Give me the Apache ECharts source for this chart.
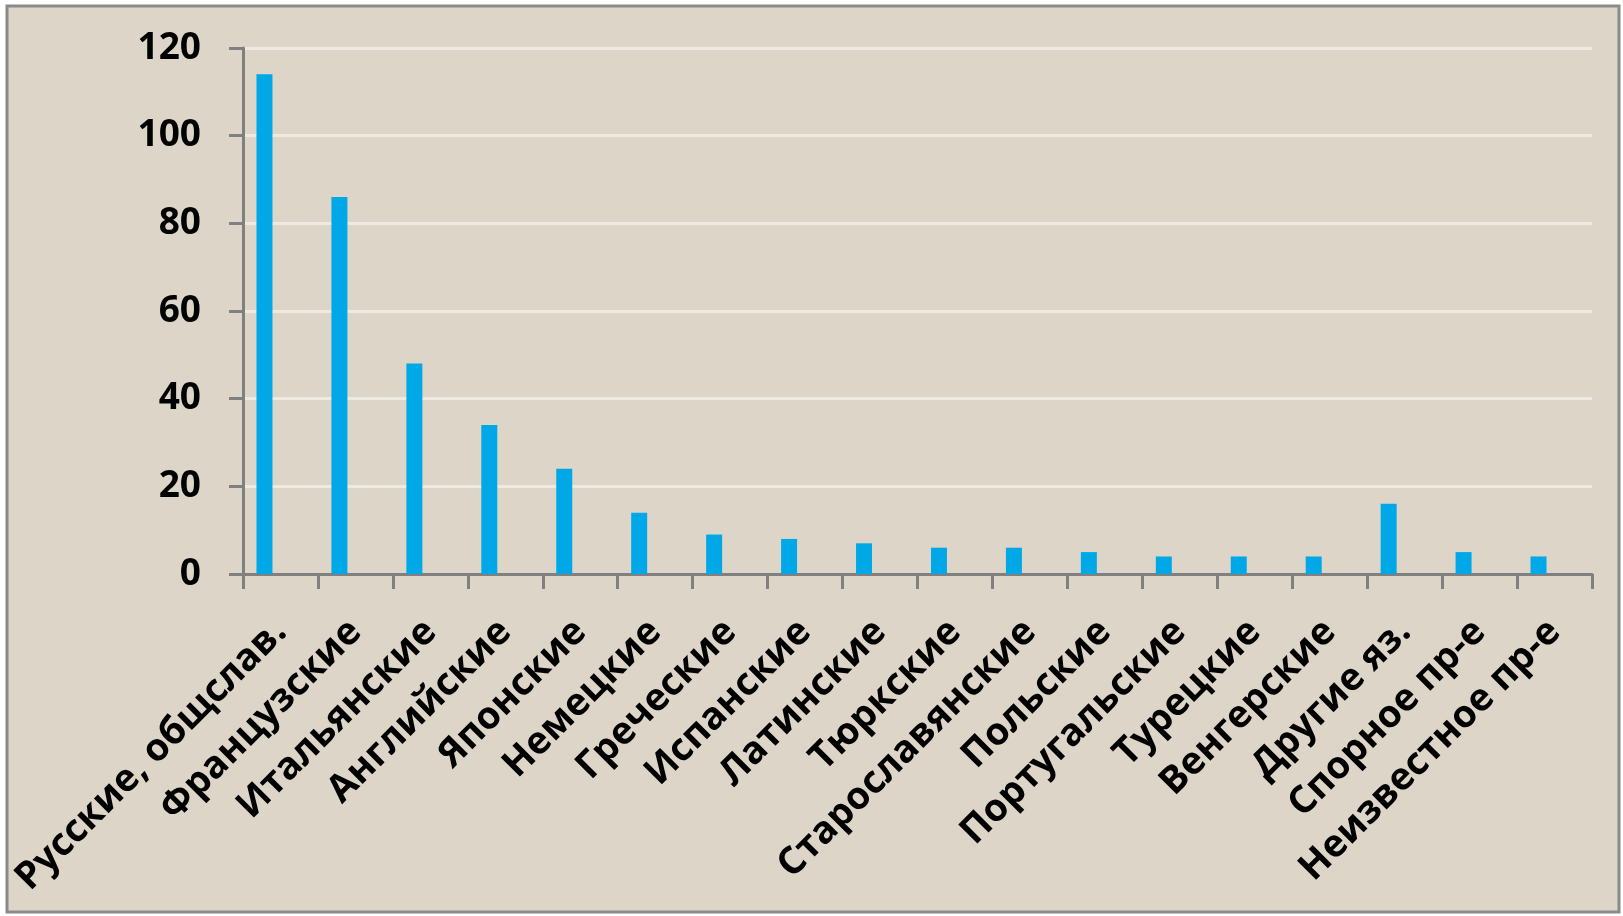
<html lang="ru">
<head>
<meta charset="UTF-8">
<title>Заимствования</title>
<script src="https://cdn.jsdelivr.net/npm/echarts@6/dist/echarts.min.js"></script>
<style>
body{margin:0;background:#fff;}
</style>
</head>
<body>
<div id="main" style="width:1623px;height:916px;"></div>
<script type="text/javascript">
// категории и значения
var categories = ['Русские, общслав.', 'Французские', 'Итальянские', 'Английские', 'Японские',
	'Немецкие', 'Греческие', 'Испанские', 'Латинские', 'Тюркские', 'Старославянские',
	'Польские', 'Португальские', 'Турецкие', 'Венгерские', 'Другие яз.', 'Спорное пр-е', 'Неизвестное пр-е'];
var counts = [114, 86, 48, 34, 24, 14, 9, 8, 7, 6, 6, 5, 4, 4, 4, 16, 5, 4];
// в исходной диаграмме ещё два пустых ряда, из-за них столбики сдвинуты влево
var emptyB = [];
var emptyC = [];
var yTicks = [0, 20, 40, 60, 80, 100, 120];

var chart = echarts.init(document.getElementById('main'));
var fontFam = '"Open Sans", "Noto Sans", sans-serif';
var option = {
	backgroundColor: '#ffffff',
	animation: false,
	graphic: [{
		type: 'rect',
		shape: {x: 7, y: 6, width: 1612, height: 906},
		style: {fill: '#ddd6c8', stroke: '#8a8a8a', lineWidth: 3},
		z: -10
	}],
	grid: {left: 243, right: 31, top: 48, bottom: 342},
	xAxis: {
		type: 'category',
		data: categories,
		axisLine: {lineStyle: {color: '#808080', width: 3}},
		axisTick: {show: true, length: 15, lineStyle: {color: '#808080', width: 3}},
		axisLabel: {
			rotate: 45,
			interval: 0,
			margin: 52,
			color: '#000',
			fontFamily: fontFam,
			fontWeight: 'bold',
			fontSize: 38
		}
	},
	yAxis: {
		type: 'value',
		min: yTicks[0],
		max: yTicks[yTicks.length - 1],
		interval: 20,
		axisLine: {show: true, lineStyle: {color: '#808080', width: 3}},
		axisTick: {show: true, length: 14, lineStyle: {color: '#808080', width: 3}},
		splitLine: {lineStyle: {color: '#eeeae1', width: 3}},
		axisLabel: {
			margin: 42,
			color: '#000',
			fontFamily: fontFam,
			fontWeight: 'bold',
			fontSize: 37
		}
	},
	series: [{
		type: 'bar',
		data: counts,
		barWidth: 16,
		barGap: '0%',
		itemStyle: {color: '#00a8e8'}
	}, {
		type: 'bar',
		data: emptyB,
		barWidth: 16
	}, {
		type: 'bar',
		data: emptyC,
		barWidth: 16
	}]
};
chart.setOption(option);
</script>
</body>
</html>
